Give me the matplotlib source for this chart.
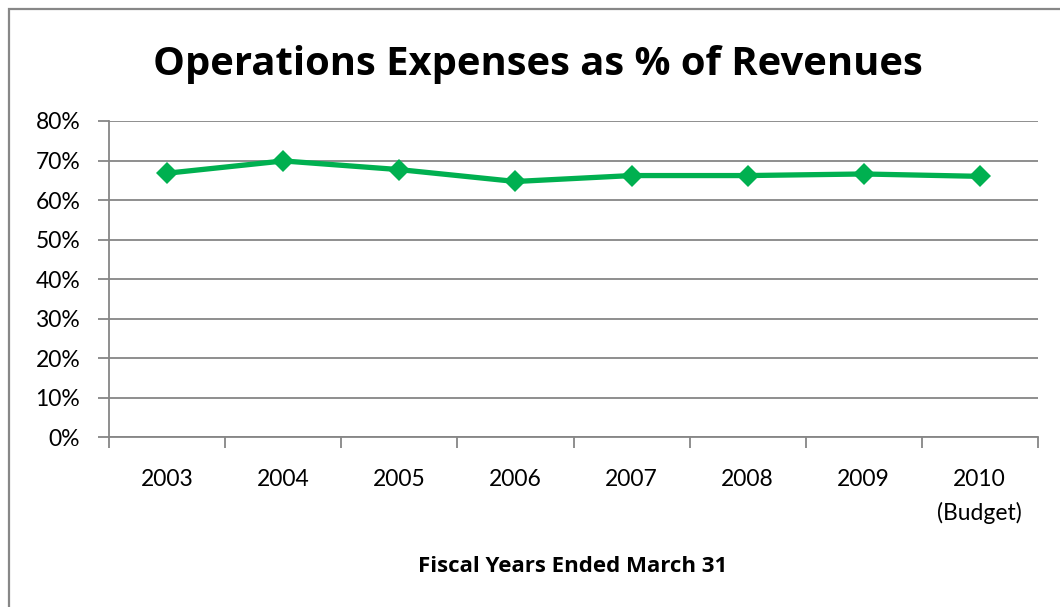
import matplotlib
matplotlib.use("Agg")
import matplotlib.pyplot as plt
from matplotlib.patches import Rectangle
from matplotlib.ticker import FixedLocator, NullFormatter, FixedFormatter

plt.rcParams['font.family'] = ['Lato', 'DejaVu Sans']

# Fiscal years and operations expenses as share of revenues (%)
years = ["2003", "2004", "2005", "2006", "2007", "2008", "2009", "2010\n(Budget)"]
expense_pct = [66.8, 69.9, 67.7, 64.7, 66.2, 66.2, 66.6, 66.0]
y_ticks = [0, 10, 20, 30, 40, 50, 60, 70, 80]
y_tick_labels = [f"{v}%" for v in y_ticks]

W, H = 1060, 607
fig = plt.figure(figsize=(W / 100, H / 100), dpi=100)

# chart frame (open at right and bottom)
fig.patches.append(Rectangle((9 / W, -0.1), 1.2, 1 - 9 / H + 0.1,
                             transform=fig.transFigure, fill=False,
                             edgecolor="#878787", linewidth=1.6))

left, right, top, bottom = 109.3, 1037.7, 121, 437.3
ax = fig.add_axes([left / W, 1 - bottom / H, (right - left) / W, (bottom - top) / H])

x = list(range(len(years)))
ax.plot(x, expense_pct, color="#00B050", linewidth=3.8, marker="D",
        markersize=11, markeredgewidth=0, zorder=3, solid_joinstyle="miter")

ax.set_xlim(-0.5, len(years) - 0.5)
ax.set_ylim(0, 80)

grid_c = "#868686"
ax.set_yticks(y_ticks)
ax.set_yticklabels(y_tick_labels)
ax.yaxis.grid(True, color=grid_c, linewidth=1.3)
ax.set_axisbelow(True)

# category boundaries get tick marks; labels sit at category centres
ax.xaxis.set_major_locator(FixedLocator([i - 0.5 for i in range(len(years) + 1)]))
ax.xaxis.set_major_formatter(NullFormatter())
ax.xaxis.set_minor_locator(FixedLocator(x))
ax.xaxis.set_minor_formatter(FixedFormatter(years))
ax.tick_params(axis="x", which="major", length=8, width=1.3, color=grid_c, direction="out")
ax.tick_params(axis="x", which="minor", length=0, pad=22.5, labelsize=16.5)
ax.tick_params(axis="y", length=8, width=1.3, color=grid_c, direction="out", pad=13, labelsize=16.5)
for lbl in ax.xaxis.get_minorticklabels():
    lbl.set_linespacing(1.7)

for side in ("top", "right"):
    ax.spines[side].set_visible(False)
for side in ("left", "bottom"):
    ax.spines[side].set_color(grid_c)
    ax.spines[side].set_linewidth(1.3)

fig.text(538 / W, 1 - 65 / H, "Operations Expenses as % of Revenues",
         ha="center", va="center", fontsize=28.8, fontweight="bold",
         family=["Open Sans", "DejaVu Sans"])
fig.text(573 / W, 1 - 567 / H, "Fiscal Years Ended March 31",
         ha="center", va="center", fontsize=16, fontweight="bold",
         family=["Open Sans", "DejaVu Sans"])

fig.savefig("out.png", dpi=100)
